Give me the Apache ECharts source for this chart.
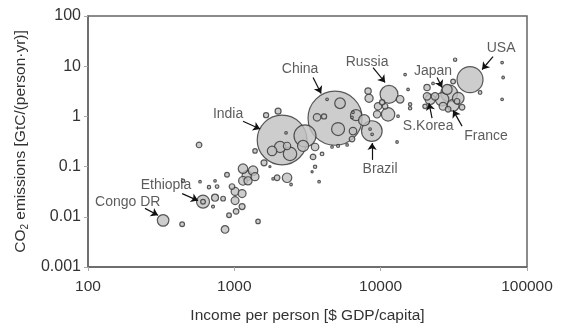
<!DOCTYPE html>
<html>
<head>
<meta charset="utf-8">
<script src="https://cdn.jsdelivr.net/npm/echarts@6/dist/echarts.min.js"></script>
<style>
  html, body { margin: 0; padding: 0; background: #fff; }
  #chart { width: 564px; height: 329px; }
</style>
</head>
<body>
<div id="chart"></div>
<script>
// income per person ($ GDP/capita), CO2 per person, population (millions)
const namedCountries = ['China', 'India', 'USA', 'Russia', 'Brazil', 'Japan', 'S.Korea', 'France', 'Ethiopia', 'Congo DR']
const namedIncome = [4880, 2120, 40800, 11400, 8700, 29400, 21800, 31300, 611, 326]
const namedCo2 = [0.92, 0.34, 5.4, 2.75, 0.51, 2.87, 2.19, 1.66, 0.020, 0.0085]
const namedPopulation = [1300, 1100, 300, 142, 190, 127, 48, 62, 75, 60]

// the unlabelled countries: [income, co2, population]
const otherCountries = [
  [3040, 0.41, 215], [26300, 2.19, 80],
  [574, 0.27, 14], [440, 0.0071, 10], [446, 0.052, 5], [583, 0.050, 3],
  [738, 0.052, 3], [671, 0.039, 5], [762, 0.040, 6], [964, 0.040, 14],
  [891, 0.069, 10], [738, 0.024, 22], [838, 0.023, 10], [715, 0.016, 4],
  [1012, 0.032, 28], [1130, 0.029, 28], [1012, 0.021, 28], [1130, 0.016, 16],
  [1028, 0.0128, 14], [920, 0.0107, 10], [1452, 0.0081, 9], [864, 0.0056, 26],
  [611, 0.020, 10], [1385, 0.205, 9], [1596, 0.119, 16], [1648, 1.06, 12],
  [1991, 1.27, 16], [2256, 0.47, 3], [1811, 0.205, 40], [2053, 0.246, 55],
  [2292, 0.258, 24], [2402, 0.179, 80], [2950, 0.258, 55], [3563, 0.246, 25],
  [1146, 0.091, 40], [1343, 0.083, 40], [1222, 0.066, 44], [1385, 0.063, 28],
  [1146, 0.052, 34], [1241, 0.052, 30], [1750, 0.10, 2], [1960, 0.060, 14],
  [1840, 0.057, 3], [2292, 0.060, 40], [2441, 0.044, 3], [3451, 0.156, 14],
  [3975, 0.179, 6], [3563, 0.099, 5], [3400, 0.079, 2], [3795, 0.050, 3],
  [12940, 0.309, 3], [5277, 1.83, 50], [3676, 0.96, 25], [4102, 1.0, 12],
  [5116, 0.56, 75], [4303, 2.19, 3], [6372, 0.96, 3], [6470, 1.21, 3],
  [6790, 1.06, 55], [7710, 0.84, 55], [6470, 0.51, 25], [6372, 0.354, 14],
  [4653, 0.246, 3], [5116, 0.258, 4], [5900, 0.270, 3], [8466, 0.56, 3],
  [8740, 0.44, 3],
  [8200, 3.2, 18], [8330, 2.3, 30], [9600, 1.59, 25], [10720, 1.59, 14],
  [11240, 1.10, 80], [9450, 1.10, 24], [13580, 2.19, 26], [15890, 1.74, 5],
  [15890, 1.45, 5], [15390, 3.45, 3], [14690, 6.8, 3], [13140, 1.01, 3],
  [10230, 1.91, 12],
  [32280, 13.5, 5], [47800, 3.0, 6], [67590, 11.8, 3], [68690, 5.95, 3],
  [67590, 2.19, 3],
  [20740, 3.77, 18], [20740, 2.51, 25], [23530, 2.51, 25], [28450, 3.45, 45],
  [31260, 4.96, 10], [20110, 1.59, 9], [26710, 1.59, 28], [28900, 1.39, 14],
  [35990, 1.52, 14], [33270, 2.0, 14], [25460, 4.33, 3], [22790, 4.53, 3],
  [33900, 2.3, 60]
]

// annotation text position and arrow (from -> to), in data units
const labelAt = [[2813, 8.6], [906, 1.10], [66500, 23.3], [8070, 12.3], [9910, 0.091],
  [22790, 7.8], [21100, 0.64], [52500, 0.41], [341, 0.042], [187, 0.020]]
const arrowFrom = [[3451, 5.95], [1146, 0.80], [58600, 15.5], [8870, 9.4], [8740, 0.136],
  [24300, 5.95], [22440, 0.92], [35990, 0.64], [440, 0.029], [245, 0.0147]]
const arrowTo = [[3920, 2.87], [1500, 0.56], [49330, 8.6], [10720, 4.74], [8740, 0.294],
  [26290, 3.77], [21400, 1.83], [31260, 1.32], [565, 0.021], [301, 0.0107]]

const xTickLabels = ['100', '1000', '10000', '100000']
const yTickLabels = ['0.001', '0.01', '0.1', '1', '10', '100']

const font = 'Liberation Sans, Arial, Helvetica, sans-serif'

const bubbles = namedCountries
  .map((n, i) => [namedIncome[i], namedCo2[i], namedPopulation[i]])
  .concat(otherCountries)
  .sort((a, b) => b[2] - a[2])

const chart = echarts.init(document.getElementById('chart'))

chart.setOption({
  animation: false,
  grid: {
    left: 88,
    right: 37,
    top: 16,
    bottom: 60,
    show: true,
    borderColor: '#666',
    borderWidth: 1.5
  },
  xAxis: {
    type: 'log',
    logBase: 10,
    min: 100,
    max: 100000,
    name: 'Income per person [$ GDP/capita]',
    nameLocation: 'middle',
    nameGap: 41,
    nameTextStyle: { fontFamily: font, fontSize: 15.5, color: '#333' },
    axisLine: { lineStyle: { color: '#666', width: 1.5 } },
    axisTick: { show: true, length: 4, lineStyle: { color: '#aaa' } },
    axisLabel: {
      margin: 12,
      fontFamily: font,
      fontSize: 15.5,
      color: '#333',
      formatter: (v, i) => xTickLabels[i]
    },
    splitLine: { show: false }
  },
  yAxis: {
    type: 'log',
    logBase: 10,
    min: 0.001,
    max: 100,
    name: '{t|CO}{s|2}{t| emissions [GtC/(person·yr)]}',
    nameLocation: 'middle',
    nameGap: 56,
    nameTextStyle: {
      rich: {
        t: { fontFamily: font, fontSize: 15.5, color: '#333' },
        s: { fontFamily: font, fontSize: 10, color: '#333', padding: [8, 0, 0, 0] }
      }
    },
    axisLine: { lineStyle: { color: '#666', width: 1.5 } },
    axisTick: { show: true, length: 4, lineStyle: { color: '#aaa' } },
    axisLabel: {
      margin: 7,
      fontFamily: font,
      fontSize: 16,
      color: '#333',
      formatter: (v, i) => yTickLabels[i]
    },
    splitLine: { show: false }
  },
  series: [
    {
      name: 'countries',
      type: 'scatter',
      data: bubbles,
      symbolSize: (v) => Math.sqrt(v[2]) * 1.5,
      itemStyle: {
        color: '#c0c0c0',
        borderColor: '#333',
        borderWidth: 1.2
      },
      silent: true,
      markLine: {
        silent: true,
        symbol: ['none', 'arrow'],
        symbolSize: 7,
        lineStyle: { color: '#111', width: 1.2, type: 'solid' },
        label: { show: false },
        data: arrowFrom.map((f, i) => [{ coord: f }, { coord: arrowTo[i] }])
      }
    },
    {
      name: 'labels',
      type: 'scatter',
      symbolSize: 1,
      itemStyle: { color: 'transparent' },
      silent: true,
      data: namedCountries.map((n, i) => ({ name: n, value: labelAt[i] })),
      label: {
        show: true,
        position: 'inside',
        formatter: '{b}',
        fontFamily: font,
        fontSize: 14,
        color: '#333'
      }
    }
  ]
})
</script>
</body>
</html>
